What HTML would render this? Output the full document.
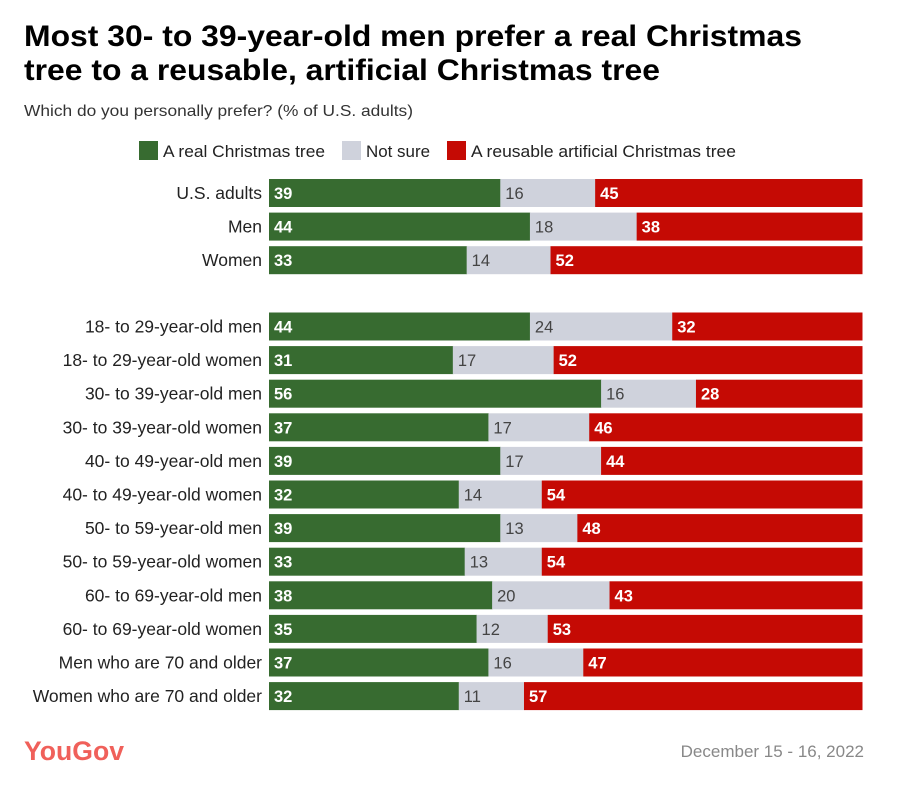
<!DOCTYPE html>
<html><head><meta charset="utf-8">
<style>
body{margin:0;background:#fff;width:908px;height:796px;overflow:hidden;font-family:"Liberation Sans",sans-serif;}
</style></head>
<body>
<svg width="908" height="796" xmlns="http://www.w3.org/2000/svg" font-family="Liberation Sans, sans-serif">
<text x="24" y="46" font-size="30" font-weight="bold" fill="#000" textLength="778" lengthAdjust="spacingAndGlyphs">Most 30- to 39-year-old men prefer a real Christmas</text>
<text x="24" y="80" font-size="30" font-weight="bold" fill="#000" textLength="636" lengthAdjust="spacingAndGlyphs">tree to a reusable, artificial Christmas tree</text>
<text x="24" y="116" font-size="16" fill="#333" textLength="389" lengthAdjust="spacingAndGlyphs">Which do you personally prefer? (% of U.S. adults)</text>
<g>
<rect x="139" y="141" width="19" height="19" fill="#376b30"/>
<text x="163" y="157" font-size="16.5" fill="#222" textLength="162" lengthAdjust="spacingAndGlyphs">A real Christmas tree</text>
<rect x="342" y="141" width="19" height="19" fill="#cfd2dc"/>
<text x="366" y="157" font-size="16.5" fill="#222" textLength="64" lengthAdjust="spacingAndGlyphs">Not sure</text>
<rect x="447" y="141" width="19" height="19" fill="#c50a04"/>
<text x="471" y="157" font-size="16.5" fill="#222" textLength="265" lengthAdjust="spacingAndGlyphs">A reusable artificial Christmas tree</text>
</g>
<g id="bars"></g>
<text x="24" y="760" font-size="27" fill="#f0605a" font-weight="bold" textLength="100" lengthAdjust="spacingAndGlyphs">YouGov</text>
<text x="864" y="757" font-size="17" fill="#888" text-anchor="end">December 15 - 16, 2022</text>
</svg>
<script>
const categories=["U.S. adults","Men","Women","18- to 29-year-old men","18- to 29-year-old women","30- to 39-year-old men","30- to 39-year-old women","40- to 49-year-old men","40- to 49-year-old women","50- to 59-year-old men","50- to 59-year-old women","60- to 69-year-old men","60- to 69-year-old women","Men who are 70 and older","Women who are 70 and older"];
const realTree=[39,44,33,44,31,56,37,39,32,39,33,38,35,37,32];
const notSure=[16,18,14,24,17,16,17,17,14,13,13,20,12,16,11];
const artificial=[45,38,52,32,52,28,46,44,54,48,54,43,53,47,57];
const NS="http://www.w3.org/2000/svg";
const g=document.getElementById('bars');
const X0=269,W=593,BH=28;
function yPos(i){return i<3?179+i*33.6:312.5+(i-3)*33.6;}
function xScale(v,total){return v/total*W;}
const colors=["#376b30","#cfd2dc","#c50a04"];
const txtCol=["#fff","#444","#fff"];
const names=["real","notsure","artificial"];
categories.forEach((c,i)=>{
  const y=yPos(i);
  const vals=[realTree[i],notSure[i],artificial[i]];
  const total=vals[0]+vals[1]+vals[2];
  const lab=document.createElementNS(NS,'text');
  lab.setAttribute('x',262);lab.setAttribute('y',y+BH/2+6);
  lab.setAttribute('text-anchor','end');lab.setAttribute('font-size','17.5');lab.setAttribute('fill','#222');
  lab.textContent=c;
  
  
  g.appendChild(lab);
  let x=X0;
  vals.forEach((v,k)=>{
    const w=xScale(v,total);
    const r=document.createElementNS(NS,'rect');
    r.setAttribute('x',x);r.setAttribute('y',y);r.setAttribute('width',w+0.5);r.setAttribute('height',BH);
    r.setAttribute('fill',colors[k]);
    
    
    g.appendChild(r);
    const t=document.createElementNS(NS,'text');
    t.setAttribute('x',x+5);t.setAttribute('y',y+BH/2+6);
    t.setAttribute('font-size','16.5');t.setAttribute('fill',txtCol[k]);
    if(k!==1)t.setAttribute('font-weight','bold');
    t.textContent=v;
    
    
    g.appendChild(t);
    x+=w;
  });
});
</script>
</body></html>
